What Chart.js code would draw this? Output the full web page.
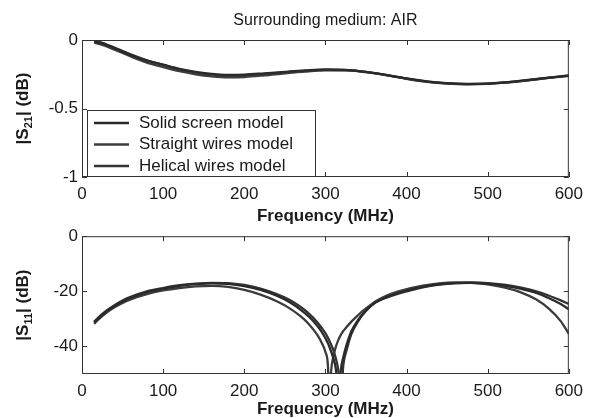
<!DOCTYPE html>
<html>
<head>
<meta charset="utf-8">
<script src="https://cdn.jsdelivr.net/npm/chart.js@4.4.1/dist/chart.umd.min.js"></script>
<style>
  html, body { margin: 0; padding: 0; background: #fff; }
  #wrap { position: relative; width: 590px; height: 418px; overflow: hidden; background: #fff; }
  canvas { position: absolute; left: 0; }
  #top { top: 0; width: 590px; height: 228px; }
  #bottom { top: 222px; width: 590px; height: 196px; }
</style>
</head>
<body>
<div id="wrap">
  <canvas id="top" width="590" height="228"></canvas>
  <canvas id="bottom" width="590" height="196"></canvas>
</div>
<script>
// series names (legend order)
const seriesNames = ['Solid screen model', 'Straight wires model', 'Helical wires model'];

// |S21| (dB) - top plot
const freqS21 = [15, 25, 40, 60, 80, 100, 120, 140, 160, 180, 200, 225, 250, 275, 300, 325, 350, 375, 400, 425, 450, 475, 500, 525, 550, 575, 600];
const s21Solid = [-0.01, -0.025, -0.06, -0.11, -0.15, -0.18, -0.21, -0.232, -0.248, -0.255, -0.253, -0.243, -0.232, -0.222, -0.215, -0.218, -0.232, -0.255, -0.28, -0.302, -0.315, -0.32, -0.318, -0.308, -0.292, -0.275, -0.26];
const s21Straight = [-0.02, -0.035, -0.07, -0.12, -0.165, -0.198, -0.228, -0.25, -0.265, -0.272, -0.27, -0.258, -0.243, -0.23, -0.222, -0.222, -0.235, -0.257, -0.283, -0.305, -0.318, -0.323, -0.32, -0.31, -0.294, -0.277, -0.262];
const s21Helical = [-0.005, -0.02, -0.055, -0.105, -0.148, -0.182, -0.215, -0.238, -0.252, -0.26, -0.258, -0.248, -0.236, -0.225, -0.218, -0.22, -0.233, -0.256, -0.282, -0.304, -0.317, -0.322, -0.319, -0.309, -0.293, -0.276, -0.258];

// |S11| (dB) - bottom plot (values under -50 are cut by the axis)
const freqS11 = [15, 20, 30, 40, 50, 60, 80, 100, 120, 140, 160, 180, 200, 220, 240, 255, 270, 280, 290, 296, 300, 303, 305, 307, 310, 313, 316, 319, 322, 326, 332, 340, 350, 362, 375, 390, 405, 420, 440, 460, 480, 500, 520, 540, 560, 575, 590, 600];
const s11Solid = [-31.3, -29.8, -27.3, -25.3, -23.6, -22.3, -20.3, -19.0, -18.0, -17.4, -17.1, -17.3, -18.1, -19.5, -21.6, -23.8, -26.8, -29.3, -32.5, -35.0, -37.0, -38.8, -40.2, -41.8, -44.5, -48.5, -60, -48.5, -44, -39.5, -34.5, -30.5, -27, -24, -22.2, -20.6, -19.4, -18.4, -17.5, -17.0, -16.9, -17.2, -17.9, -19.0, -20.6, -22.4, -24.6, -26.5];
const s11Straight = [-31.8, -30.3, -27.8, -25.8, -24.2, -22.9, -21.0, -19.7, -18.8, -18.2, -18.0, -18.4, -19.5, -21.2, -23.6, -26.0, -29.2, -32.0, -35.8, -39.0, -42.0, -46.5, -60, -49, -43.5, -40.0, -37.6, -35.8, -34.4, -33.0, -31.0, -28.7, -26.2, -23.6, -21.6, -20.0, -18.8, -17.9, -17.1, -16.8, -16.9, -17.5, -18.6, -20.3, -23.0, -26.2, -30.8, -35.4];
const s11Helical = [-31.0, -29.5, -27.0, -25.0, -23.3, -22.0, -20.0, -18.8, -17.8, -17.2, -16.9, -17.0, -17.7, -19.0, -21.0, -23.0, -25.8, -28.2, -31.2, -33.5, -35.2, -36.8, -38.0, -39.3, -41.5, -44.5, -49, -60, -47, -41.5, -35.5, -31, -27, -24, -22.3, -20.8, -19.7, -18.6, -17.6, -17.0, -16.8, -17.0, -17.6, -18.6, -20.0, -21.5, -23.3, -24.6];

// tick labels
const xTicks = [0, 100, 200, 300, 400, 500, 600];
const yTicksS21 = [0, -0.5, -1];
const yTicksS11 = [0, -20, -40];

const FONT = '"Liberation Sans", Arial, Helvetica, sans-serif';
const TEXT = '#1a1a1a';
const lineStyles = [
  { borderColor: '#2a2a2a', borderWidth: 2.3 },
  { borderColor: '#3c3c3c', borderWidth: 2.3 },
  { borderColor: '#333333', borderWidth: 2.3 }
];

function toPoints(xs, ys) {
  return xs.map((f, i) => ({ x: f, y: ys[i] }));
}

function makeDatasets(xs, seriesList) {
  return seriesList.map((ys, i) => Object.assign({
    label: seriesNames[i],
    data: toPoints(xs, ys),
    pointRadius: 0,
    fill: false,
    cubicInterpolationMode: 'monotone'
  }, lineStyles[i]));
}

// box, inward ticks, y title with subscript, title and legend
const framePlugin = {
  id: 'frame',
  afterDraw(chart, args, opts) {
    const { ctx, chartArea: a, scales } = chart;
    const x = scales.x, y = scales.y;
    ctx.save();
    ctx.strokeStyle = '#333';
    ctx.lineWidth = 1;
    ctx.strokeRect(a.left + 0.5, a.top + 0.5, a.right - a.left - 1, a.bottom - a.top - 1);
    ctx.beginPath();
    x.ticks.forEach(t => {
      const px = Math.round(x.getPixelForValue(t.value)) + 0.5;
      ctx.moveTo(px, a.bottom); ctx.lineTo(px, a.bottom - 5);
      ctx.moveTo(px, a.top); ctx.lineTo(px, a.top + 5);
    });
    y.ticks.forEach(t => {
      const py = Math.round(y.getPixelForValue(t.value)) + 0.5;
      ctx.moveTo(a.left, py); ctx.lineTo(a.left + 5, py);
      ctx.moveTo(a.right, py); ctx.lineTo(a.right - 5, py);
    });
    ctx.stroke();

    // y axis title: |S21| (dB)
    ctx.fillStyle = TEXT;
    ctx.textBaseline = 'alphabetic';
    const big = 'bold 17px ' + FONT, small = 'bold 11px ' + FONT;
    const parts = [['|S', big, 0], [opts.sub, small, 4], ['| (dB)', big, 0]];
    let total = 0;
    parts.forEach(p => { ctx.font = p[1]; total += ctx.measureText(p[0]).width; });
    ctx.translate(28, (a.top + a.bottom) / 2);
    ctx.rotate(-Math.PI / 2);
    let cx = -total / 2;
    parts.forEach(p => {
      ctx.font = p[1];
      ctx.fillText(p[0], cx, p[2]);
      cx += ctx.measureText(p[0]).width;
    });
    ctx.setTransform(1, 0, 0, 1, 0, 0);

    if (opts.title) {
      ctx.font = '16px ' + FONT;
      ctx.textAlign = 'center';
      ctx.textBaseline = 'middle';
      ctx.fillText(opts.title, (a.left + a.right) / 2, 21);
    }

    if (opts.legend) {
      const lx = a.left + 5, ly = a.top + 70, lw = 229, lh = a.bottom - ly;
      ctx.fillStyle = '#fff';
      ctx.fillRect(lx, ly, lw, lh);
      ctx.strokeStyle = '#333';
      ctx.strokeRect(lx + 0.5, ly + 0.5, lw - 1, lh - 1);
      ctx.font = '17px ' + FONT;
      ctx.textAlign = 'left';
      ctx.textBaseline = 'middle';
      chart.data.datasets.forEach((ds, i) => {
        const ry = ly + 13 + i * 21.5;
        ctx.strokeStyle = ds.borderColor;
        ctx.lineWidth = ds.borderWidth;
        ctx.beginPath();
        ctx.moveTo(lx + 7, ry); ctx.lineTo(lx + 42, ry);
        ctx.stroke();
        ctx.fillStyle = TEXT;
        ctx.fillText(ds.label, lx + 52, ry);
      });
    }
    ctx.restore();
  }
};

function makeOptions(cfg) {
  return {
    responsive: false,
    animation: false,
    devicePixelRatio: 1,
    layout: { padding: { left: 0, right: 15, top: cfg.padTop, bottom: 0 } },
    plugins: {
      legend: { display: false },
      tooltip: { enabled: false },
      frame: cfg.frame
    },
    scales: {
      x: {
        type: 'linear',
        min: 0,
        max: 600,
        grid: { display: false, drawTicks: false },
        border: { display: false },
        afterBuildTicks: s => { s.ticks = xTicks.map(v => ({ value: v })); },
        afterFit: s => { s.height = cfg.xHeight; },
        ticks: { padding: 7, maxRotation: 0, color: TEXT, font: { family: FONT, size: 17 }, callback: v => String(v) },
        title: {
          display: true,
          text: 'Frequency (MHz)',
          color: TEXT,
          font: { family: FONT, size: 17, weight: 'bold', lineHeight: 1 },
          padding: { top: 0, bottom: cfg.xTitlePad }
        }
      },
      y: {
        type: 'linear',
        min: cfg.yMin,
        max: 0,
        grid: { display: false, drawTicks: false },
        border: { display: false },
        afterBuildTicks: s => { s.ticks = cfg.yTicks.map(v => ({ value: v })); },
        afterFit: s => { s.width = 82; },
        ticks: { padding: 4, color: TEXT, font: { family: FONT, size: 17 }, callback: v => String(v) }
      }
    }
  };
}

new Chart(document.getElementById('top'), {
  type: 'line',
  data: { datasets: makeDatasets(freqS21, [s21Solid, s21Straight, s21Helical]) },
  options: makeOptions({
    padTop: 40, xHeight: 51, xTitlePad: 3.5, yMin: -1, yTicks: yTicksS21,
    frame: { sub: '21', title: 'Surrounding medium: AIR', legend: true }
  }),
  plugins: [framePlugin]
});

new Chart(document.getElementById('bottom'), {
  type: 'line',
  data: { datasets: makeDatasets(freqS11, [s11Solid, s11Straight, s11Helical]) },
  options: makeOptions({
    padTop: 12, xHeight: 44, xTitlePad: 0, yMin: -50, yTicks: yTicksS11,
    frame: { sub: '11', title: null, legend: false }
  }),
  plugins: [framePlugin]
});
</script>
</body>
</html>
